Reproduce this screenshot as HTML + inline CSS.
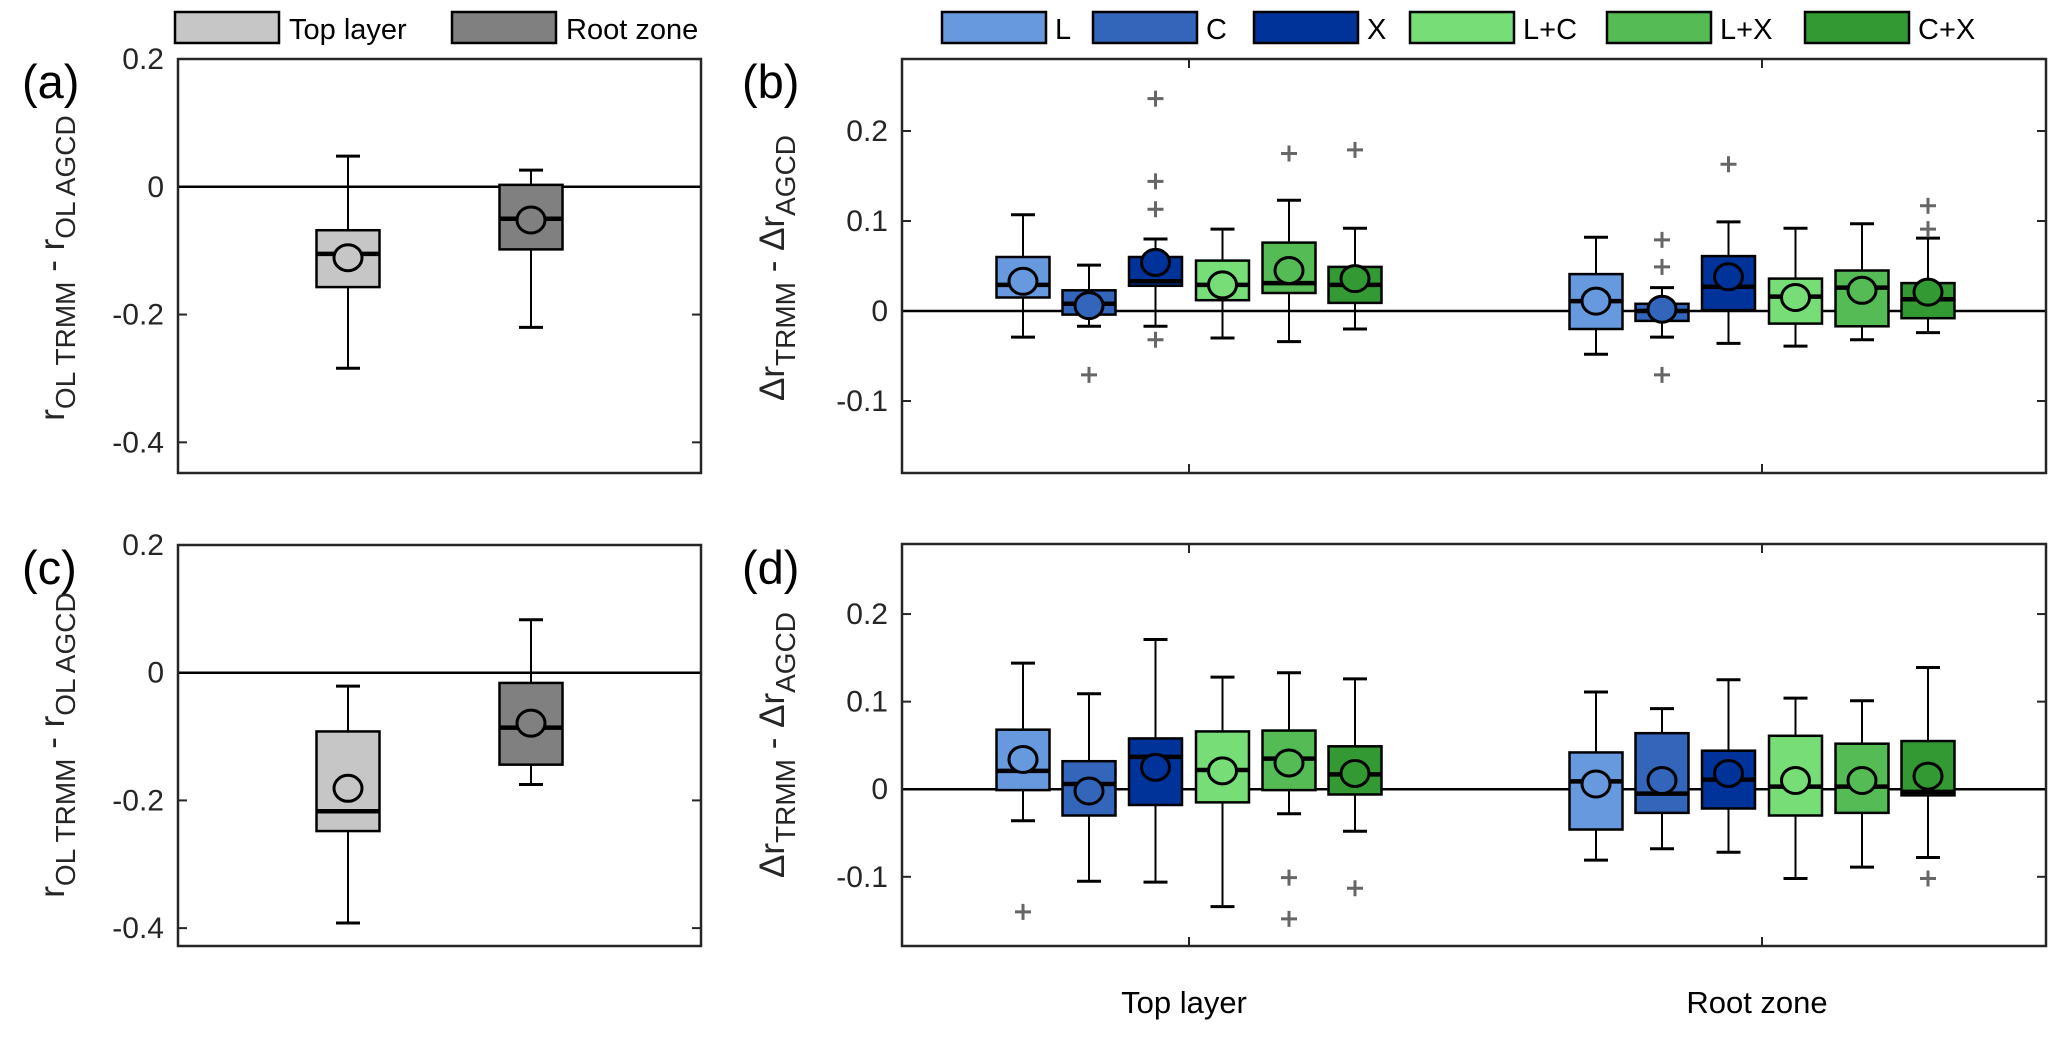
<!DOCTYPE html>
<html><head><meta charset="utf-8"><style>
html,body{margin:0;padding:0;background:#fff;}
svg{display:block;font-family:"Liberation Sans",Arial,sans-serif;}
</style></head><body>
<svg id="fig" width="2067" height="1039" viewBox="0 0 2067 1039" xmlns="http://www.w3.org/2000/svg"></svg>
<script>
// ---- data ----
const layers = ["Top layer", "Root zone"];
const sensors = ["L", "C", "X", "L+C", "L+X", "C+X"];
const sensorColors = ["#6699dd", "#3366bb", "#003399", "#77dd77", "#55bb55", "#339933"];
const grayColors = ["#c6c6c6", "#808080"];
// panel a: [low, q1, med, q3, high, mean]
const aStats = [[-0.284,-0.157,-0.105,-0.068,0.048,-0.111],[-0.220,-0.098,-0.050,0.003,0.026,-0.052]];
const cStats = [[-0.392,-0.248,-0.217,-0.092,-0.021,-0.181],[-0.175,-0.144,-0.086,-0.016,0.083,-0.079]];
// panel b: per layer, per sensor
const bStats = [
 [[-0.029,0.015,0.029,0.060,0.107,0.033],[-0.017,-0.004,0.008,0.023,0.051,0.006],[-0.017,0.028,0.033,0.060,0.080,0.054],
  [-0.030,0.012,0.029,0.056,0.091,0.029],[-0.034,0.020,0.031,0.076,0.123,0.045],[-0.020,0.009,0.029,0.049,0.092,0.036]],
 [[-0.048,-0.020,0.011,0.041,0.082,0.011],[-0.029,-0.011,0.000,0.008,0.026,0.002],[-0.036,0.001,0.027,0.061,0.099,0.038],
  [-0.039,-0.014,0.016,0.036,0.092,0.015],[-0.032,-0.017,0.026,0.045,0.097,0.023],[-0.024,-0.008,0.013,0.031,0.081,0.021]]
];
const bOutliers = [
 [[],[-0.071],[0.236,0.144,0.113,-0.032],[],[0.175],[0.179]],
 [[],[0.079,0.049,-0.071],[0.163],[],[],[0.117,0.091]]
];
const dStats = [
 [[-0.036,-0.001,0.021,0.068,0.144,0.034],[-0.105,-0.030,0.006,0.032,0.109,-0.002],[-0.106,-0.018,0.037,0.058,0.171,0.025],
  [-0.134,-0.015,0.022,0.066,0.128,0.021],[-0.028,-0.001,0.035,0.067,0.133,0.030],[-0.048,-0.006,0.017,0.049,0.126,0.018]],
 [[-0.081,-0.046,0.009,0.042,0.111,0.006],[-0.068,-0.027,-0.005,0.064,0.092,0.010],[-0.072,-0.022,0.011,0.044,0.125,0.018],
  [-0.102,-0.030,0.003,0.061,0.104,0.010],[-0.089,-0.027,0.003,0.052,0.101,0.010],[-0.078,-0.007,-0.003,0.055,0.139,0.015]]
];
const dOutliers = [
 [[-0.140],[],[],[],[-0.101,-0.148],[-0.113]],
 [[],[],[],[],[],[-0.102]]
];
const abTicks = [0.2, 0, -0.2, -0.4];
const abTickLabels = ["0.2", "0", "-0.2", "-0.4"];
const bdTicks = [0.2, 0.1, 0, -0.1];
const bdTickLabels = ["0.2", "0.1", "0", "-0.1"];

const NS = "http://www.w3.org/2000/svg";
const svg = document.getElementById("fig");
function mk(tag, attrs, parent) {
  const e = document.createElementNS(NS, tag);
  for (const k in attrs) e.setAttribute(k, attrs[k]);
  (parent || svg).appendChild(e);
  return e;
}
function scaleY(ax, v) { return ax.top + (ax.ymax - v) / (ax.ymax - ax.ymin) * (ax.bottom - ax.top); }

function drawAxes(ax, name, ticks, labels, xticks) {
  const g = mk("g", {});
  
  
  ticks.forEach((t, i) => {
    const y = scaleY(ax, t);
    mk("line", {x1: ax.left, x2: ax.left + 9, y1: y, y2: y, stroke: "#262626", "stroke-width": 2}, g);
    mk("line", {x1: ax.right, x2: ax.right - 9, y1: y, y2: y, stroke: "#262626", "stroke-width": 2}, g);
    const tx = mk("text", {x: ax.left - 14, y: y + 10, "text-anchor": "end", "font-size": 30, fill: "#262626"}, g);
    tx.textContent = labels[i];
    
    
  });
  (xticks || []).forEach(x => {
    mk("line", {x1: x, x2: x, y1: ax.top, y2: ax.top + 9, stroke: "#262626", "stroke-width": 2}, g);
    mk("line", {x1: x, x2: x, y1: ax.bottom, y2: ax.bottom - 9, stroke: "#262626", "stroke-width": 2}, g);
  });
  const z = scaleY(ax, 0);
  const zl = mk("line", {x1: ax.left, x2: ax.right, y1: z, y2: z, stroke: "#000", "stroke-width": 2.5}, g);
  
  
  return g;
}
function frame(ax) {
  const r = mk("rect", {x: ax.left, y: ax.top, width: ax.right - ax.left, height: ax.bottom - ax.top, fill: "none", stroke: "#262626", "stroke-width": 2.5});
  
  
}
function box(ax, cx, w, s, color, outl, name) {
  const g = mk("g", {});
  
  
  const [lo, q1, md, q3, hi, mean] = s;
  const cap = 12;
  mk("line", {x1: cx, x2: cx, y1: scaleY(ax, hi), y2: scaleY(ax, q3), stroke: "#000", "stroke-width": 2}, g);
  mk("line", {x1: cx, x2: cx, y1: scaleY(ax, q1), y2: scaleY(ax, lo), stroke: "#000", "stroke-width": 2}, g);
  mk("line", {x1: cx - cap, x2: cx + cap, y1: scaleY(ax, hi), y2: scaleY(ax, hi), stroke: "#000", "stroke-width": 3}, g);
  mk("line", {x1: cx - cap, x2: cx + cap, y1: scaleY(ax, lo), y2: scaleY(ax, lo), stroke: "#000", "stroke-width": 3}, g);
  mk("rect", {x: cx - w / 2, y: scaleY(ax, q3), width: w, height: scaleY(ax, q1) - scaleY(ax, q3), fill: color, stroke: "#000", "stroke-width": 2.5}, g);
  mk("line", {x1: cx - w / 2, x2: cx + w / 2, y1: scaleY(ax, md), y2: scaleY(ax, md), stroke: "#000", "stroke-width": 4.5}, g);
  mk("ellipse", {cx: cx, cy: scaleY(ax, mean), rx: 14, ry: 13, fill: color, stroke: "#000", "stroke-width": 3}, g);
  (outl || []).forEach(o => {
    const y = scaleY(ax, o);
    const p = mk("path", {d: `M${cx - 8} ${y}H${cx + 8}M${cx} ${y - 8}V${y + 8}`, stroke: "#666", "stroke-width": 3}, g);
    
    
  });
}
function txt(x, y, s, size, name, anchor) {
  const t = mk("text", {x: x, y: y, "font-size": size, fill: "#000", "text-anchor": anchor || "start"});
  t.textContent = s;
  
  
  return t;
}
function ylabelR(cx, cy, name) {
  const t = mk("text", {transform: `translate(${cx},${cy}) rotate(-90)`, "text-anchor": "middle", "font-size": 35, fill: "#262626"});
  
  
  t.innerHTML = 'r<tspan font-size="28" dy="11">OL TRMM</tspan><tspan dy="-11"> - r</tspan><tspan font-size="28" dy="11">OL AGCD</tspan>';
}
function ylabelD(cx, cy, name) {
  const t = mk("text", {transform: `translate(${cx},${cy}) rotate(-90)`, "text-anchor": "middle", "font-size": 35, fill: "#262626"});
  
  
  t.innerHTML = 'Δr<tspan font-size="28" dy="11">TRMM</tspan><tspan dy="-11"> - Δr</tspan><tspan font-size="28" dy="11">AGCD</tspan>';
}

// axes geometry
const axA = {left: 178, right: 701, top: 59, bottom: 473, ymin: -0.448, ymax: 0.2};
const axC = {left: 178, right: 701, top: 545, bottom: 946, ymin: -0.428, ymax: 0.2};
const axB = {left: 902, right: 2046, top: 59, bottom: 473, ymin: -0.18, ymax: 0.28};
const axD = {left: 902, right: 2046, top: 544, bottom: 946, ymin: -0.179, ymax: 0.28};
const grayX = [348, 531];
const groupX = [1189, 1762];
const offsets = [-166, -100, -33.5, 33.5, 100, 166];

drawAxes(axA, "panel-a-axes", abTicks, abTickLabels);
drawAxes(axC, "panel-c-axes", abTicks, abTickLabels);
drawAxes(axB, "panel-b-axes", bdTicks, bdTickLabels, groupX);
drawAxes(axD, "panel-d-axes", bdTicks, bdTickLabels, groupX);

aStats.forEach((s, i) => box(axA, grayX[i], 63, s, grayColors[i], [], "box-a-" + i));
cStats.forEach((s, i) => box(axC, grayX[i], 63, s, grayColors[i], [], "box-c-" + i));
bStats.forEach((grp, gi) => grp.forEach((s, si) => box(axB, groupX[gi] + offsets[si], 53, s, sensorColors[si], bOutliers[gi][si], "box-b-" + gi + "-" + si)));
dStats.forEach((grp, gi) => grp.forEach((s, si) => box(axD, groupX[gi] + offsets[si], 53, s, sensorColors[si], dOutliers[gi][si], "box-d-" + gi + "-" + si)));
[axA, axB, axC, axD].forEach(frame);

txt(22, 98, "(a)", 47, "panel-a-label");
txt(742, 98, "(b)", 47, "panel-b-label");
txt(22, 584, "(c)", 47, "panel-c-label");
txt(742, 584, "(d)", 47, "panel-d-label");

ylabelR(64, 268, "y-axis-title-a");
ylabelR(64, 745, "y-axis-title-c");
ylabelD(784, 268, "y-axis-title-b");
ylabelD(784, 745, "y-axis-title-d");

layers.forEach((l, i) => txt(groupX[i] - 5, 1013, l, 31, "x-tick-label", "middle"));

// legends
const legA = [[175, 279], [452, 556]];
layers.forEach((l, i) => {
  const g = mk("g", {});
  
  
  mk("rect", {x: legA[i][0], y: 12, width: legA[i][1] - legA[i][0], height: 31, fill: grayColors[i], stroke: "#000", "stroke-width": 2.5}, g);
  const t = mk("text", {x: legA[i][1] + 10, y: 39, "font-size": 29, fill: "#000"}, g);
  t.textContent = l;
});
const legB = [942, 1093, 1254, 1410, 1607, 1805];
sensors.forEach((s, i) => {
  const g = mk("g", {});
  
  
  mk("rect", {x: legB[i], y: 12, width: 104, height: 31, fill: sensorColors[i], stroke: "#000", "stroke-width": 2.5}, g);
  const t = mk("text", {x: legB[i] + 113, y: 39, "font-size": 29, fill: "#000"}, g);
  t.textContent = s;
});
</script>
</body></html>
